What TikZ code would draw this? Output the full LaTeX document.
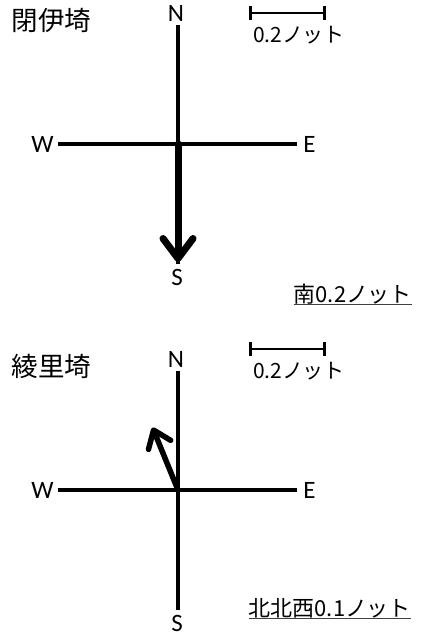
\documentclass[tikz,border=0pt]{standalone}
\usepackage{fontspec}
\setmainfont{Carlito}
\newfontfamily\jpfont{Noto Sans CJK JP}
\usetikzlibrary{arrows.meta}

\begin{document}
\begin{tikzpicture}[x=1bp,y=-1bp,
  dir/.style={font=\fontsize{25bp}{30bp}\selectfont, inner sep=0pt},
  jp/.style={font=\jpfont\fontsize{21bp}{25bp}\selectfont, inner sep=0pt},
  speed/.style={font=\jpfont\fontsize{22bp}{26bp}\selectfont, inner sep=0pt},
  site/.style={font=\jpfont\fontsize{26.5bp}{30bp}\selectfont, inner sep=0pt},
  axis/.style={line width=3.2bp},
  bar/.style={line width=2.6bp, {Bar[width=14bp]}-{Bar[width=14bp]}},
  uline/.style={line width=1.8bp, black!75},
  flow/.style={line width=#1, line cap=round}]
  \useasboundingbox (0,0) rectangle (426,636);

  % the two compass roses with their scale bars
  \foreach \i/\cy/\sy/\place in {1/144/13/閉伊埼,2/490/349/綾里埼} {
    \coordinate (O\i) at (178,\cy);
    \coordinate (n\i) at (178,\cy-119);
    \coordinate (s\i) at (178,\cy+120);
    \coordinate (w\i) at (58,\cy);
    \coordinate (e\i) at (297,\cy);
    \draw[axis] (n\i) -- (s\i);
    \draw[axis] (w\i) -- (e\i);
    \node[dir] (N\i) at (176,\cy-131) {N};
    \node[dir] (S\i) at (177,\cy+133) {S};
    \node[dir] (W\i) at (42.5,\cy) {W};
    \node[dir] (E\i) at (309.5,\cy) {E};
    \node[site] (site\i) at (51.5,\cy-124) {\place};
    % scale bar
    \coordinate (sa\i) at (249,\sy);
    \coordinate (sb\i) at (326,\sy);
    \draw[bar] (sa\i) -- (sb\i);
    \node[jp] (scl\i) at (299,\sy+22) {0.2ノット};
  }

  % current vectors
  \coordinate (tip1) at (178,262);
  \draw[flow=7bp, -{Straight Barb[length=20bp,width=30bp,round]}] (O1) -- (tip1);
  \coordinate (tip2) at (152.5,427.5);
  \draw[flow=5.5bp, -{Straight Barb[length=16bp,width=24bp,round]}] (O2) -- (tip2);

  % speed labels
  \node[speed, anchor=base east] (spd1) at (412,302) {南0.2ノット};
  \draw[uline] ([yshift=-2.5bp]spd1.base west) -- ([yshift=-2.5bp]spd1.base east);
  \node[speed, anchor=base east] (spd2) at (411,616) {北北西0.1ノット};
  \draw[uline] ([yshift=-2.5bp]spd2.base west) -- ([yshift=-2.5bp]spd2.base east);
\end{tikzpicture}
\end{document}
